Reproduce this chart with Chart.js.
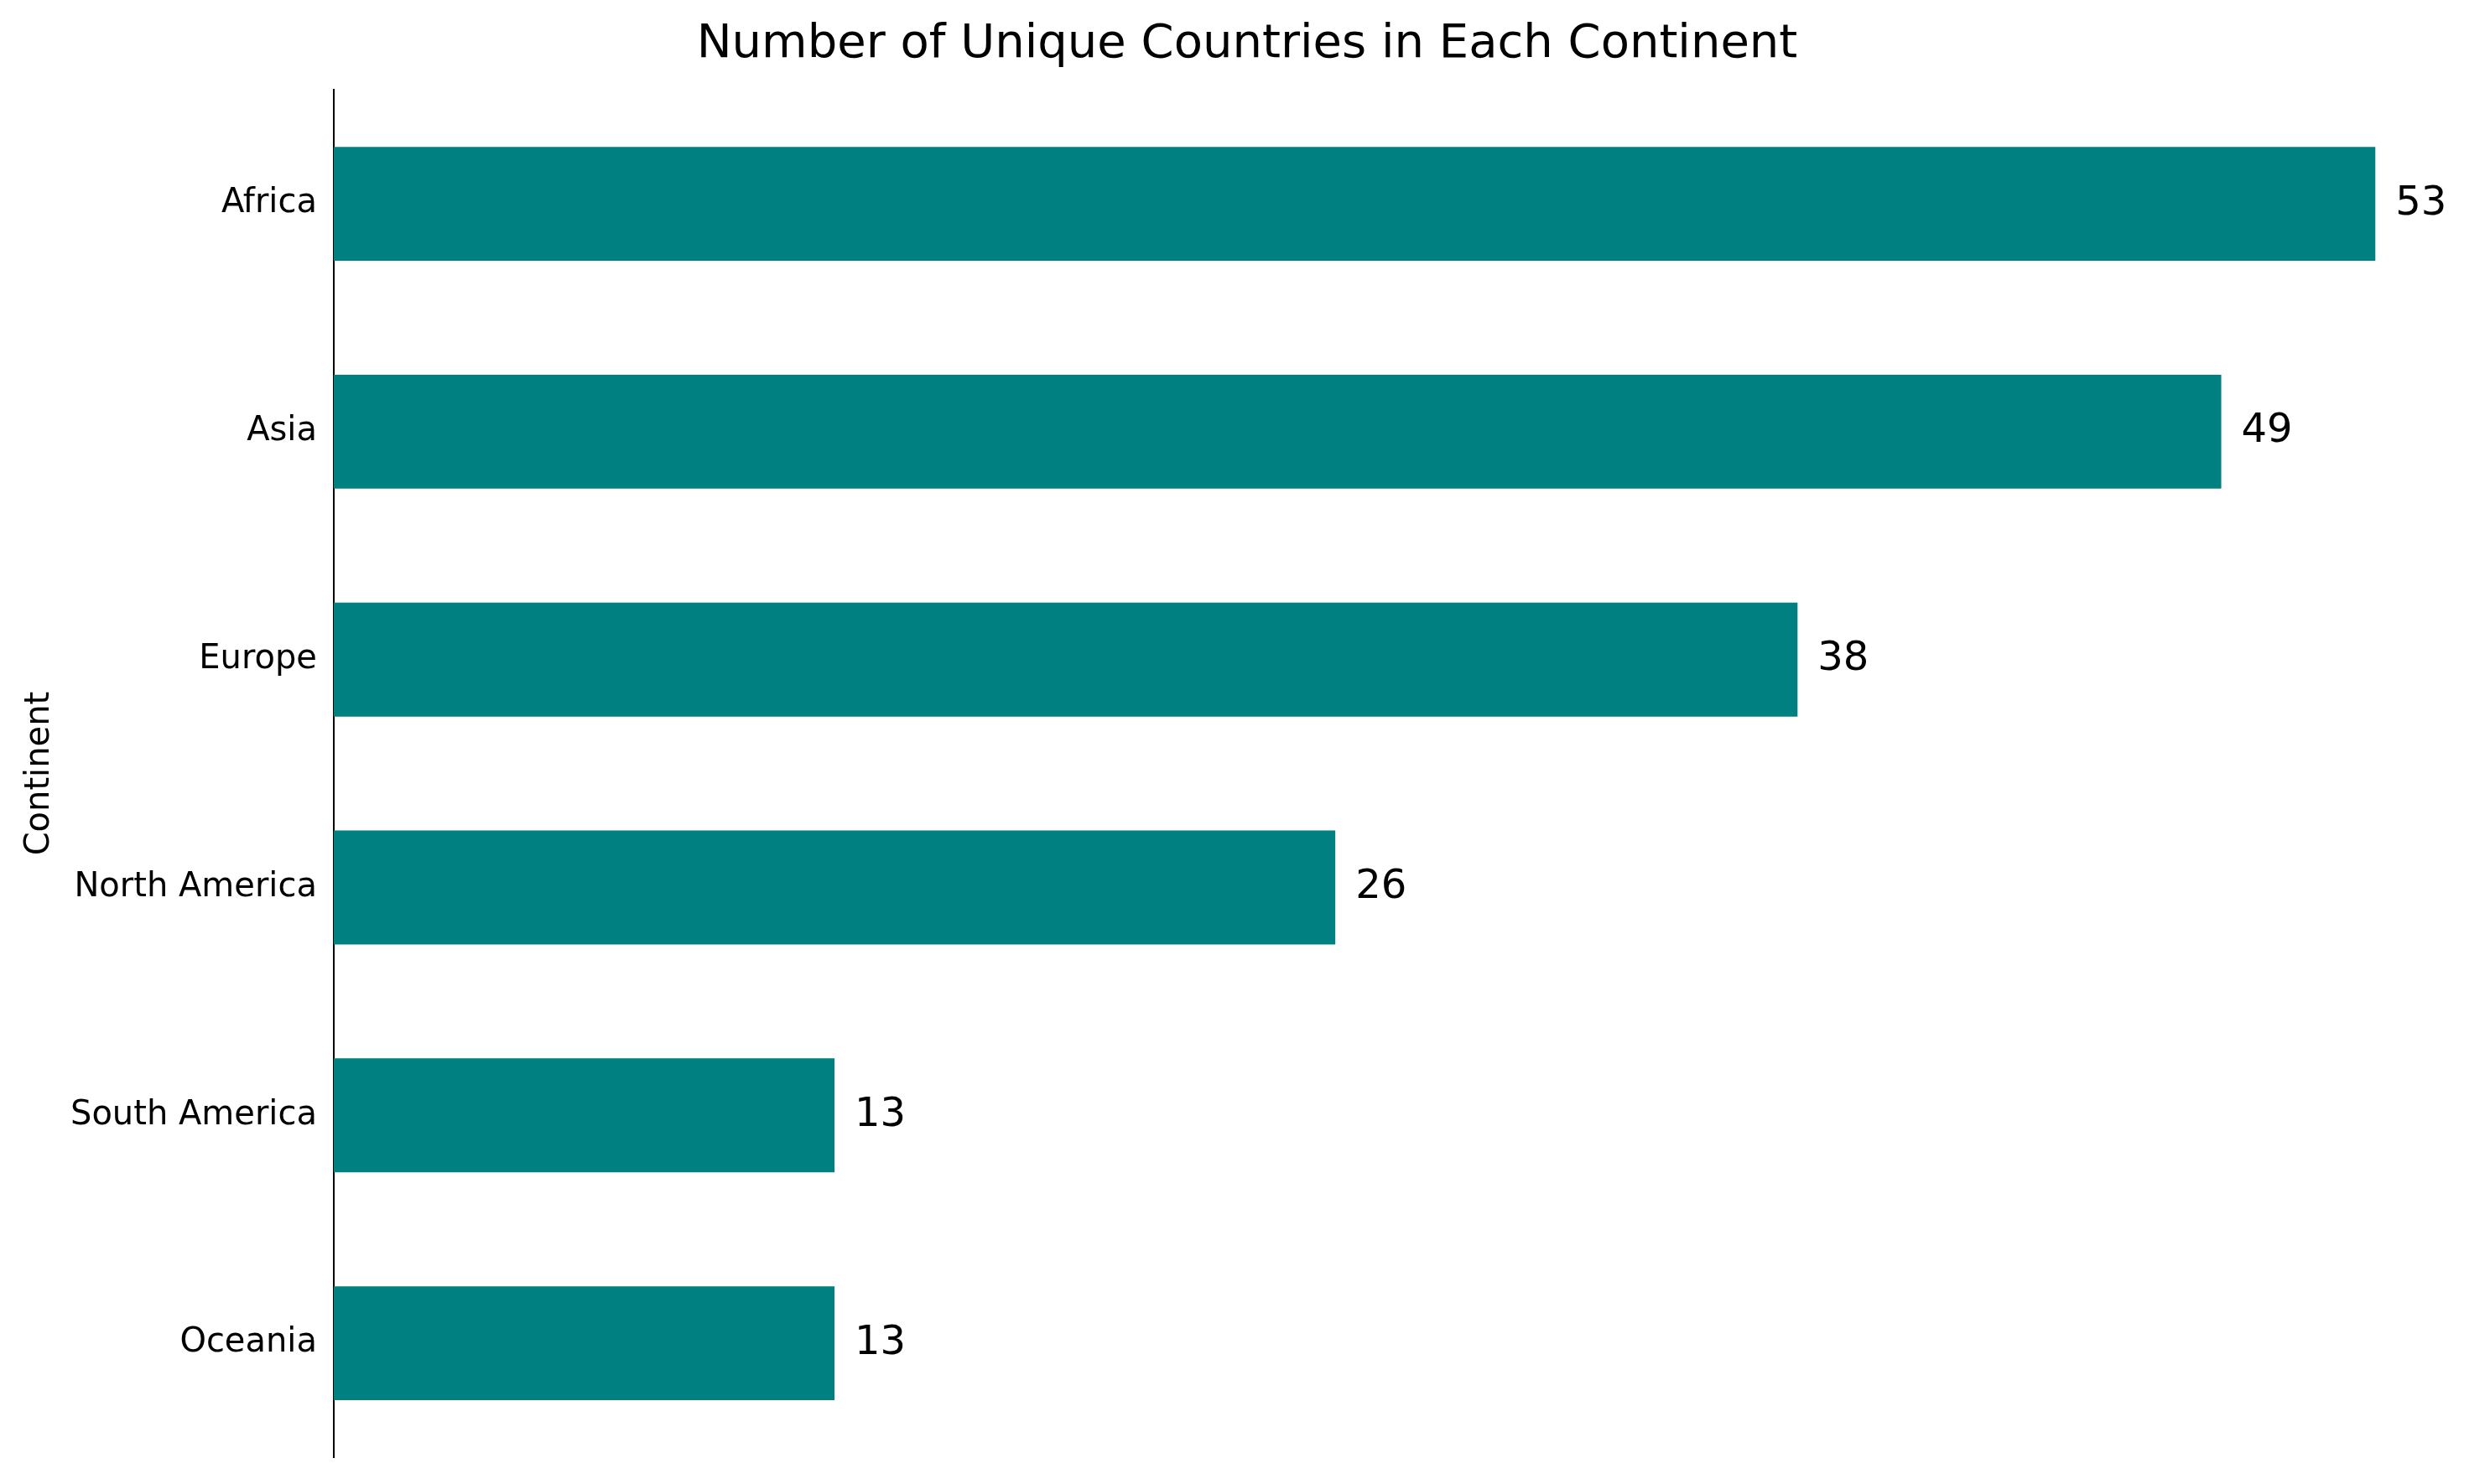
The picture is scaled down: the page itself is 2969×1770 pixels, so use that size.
<!DOCTYPE html>
<html>
<head>
<meta charset="utf-8">
<script src="https://cdn.jsdelivr.net/npm/chart.js@4"></script>
<style>
  html, body { margin: 0; padding: 0; background: #fff; }
  #wrap { width: 2969px; height: 1770px; }
</style>
</head>
<body>
<div id="wrap"><canvas id="chart"></canvas></div>
<script>
const continents = ['Africa', 'Asia', 'Europe', 'North America', 'South America', 'Oceania'];
const countryCounts = [53, 49, 38, 26, 13, 13];

// value labels at bar ends
const barLabels = {
    id: 'barLabels',
    afterDatasetsDraw(chart) {
        const c = chart.ctx;
        const meta = chart.getDatasetMeta(0);
        c.save();
        c.font = '48px "DejaVu Sans"';
        c.fillStyle = '#000';
        c.textBaseline = 'middle';
        meta.data.forEach((bar, i) => {
            c.fillText(countryCounts[i], bar.x + 24, bar.y);
        });
        c.restore();
    }
};

new Chart(document.getElementById('chart'), {
    type: 'bar',
    data: {
        labels: continents,
        datasets: [{
            data: countryCounts,
            backgroundColor: '#008080',
            categoryPercentage: 1,
            barPercentage: 0.5,
        }],
    },
    options: {
        indexAxis: 'y',
        responsive: true,
        maintainAspectRatio: false,
        animation: false,
        layout: { padding: { top: 10, right: 15, bottom: 30, left: 20 } },
        scales: {
            x: {
                min: 0,
                max: 55.65,
                display: false,
            },
            y: {
                grid: { display: false, drawTicks: true, tickLength: 12, tickColor: '#000' },
                border: { display: true, color: '#000', width: 2 },
                ticks: { color: '#000', font: { family: 'DejaVu Sans', size: 40 }, padding: 8 },
                title: { display: true, text: 'Continent', color: '#000', font: { family: 'DejaVu Sans', size: 40 } },
            },
        },
        plugins: {
            legend: { display: false },
            tooltip: { enabled: false },
            title: {
                display: true,
                text: 'Number of Unique Countries in Each Continent',
                color: '#000',
                font: { family: 'DejaVu Sans', size: 56, weight: 'normal' },
                padding: { top: 10, bottom: 20 },
            },
        },
    },
    plugins: [barLabels],
});
</script>
</body>
</html>
